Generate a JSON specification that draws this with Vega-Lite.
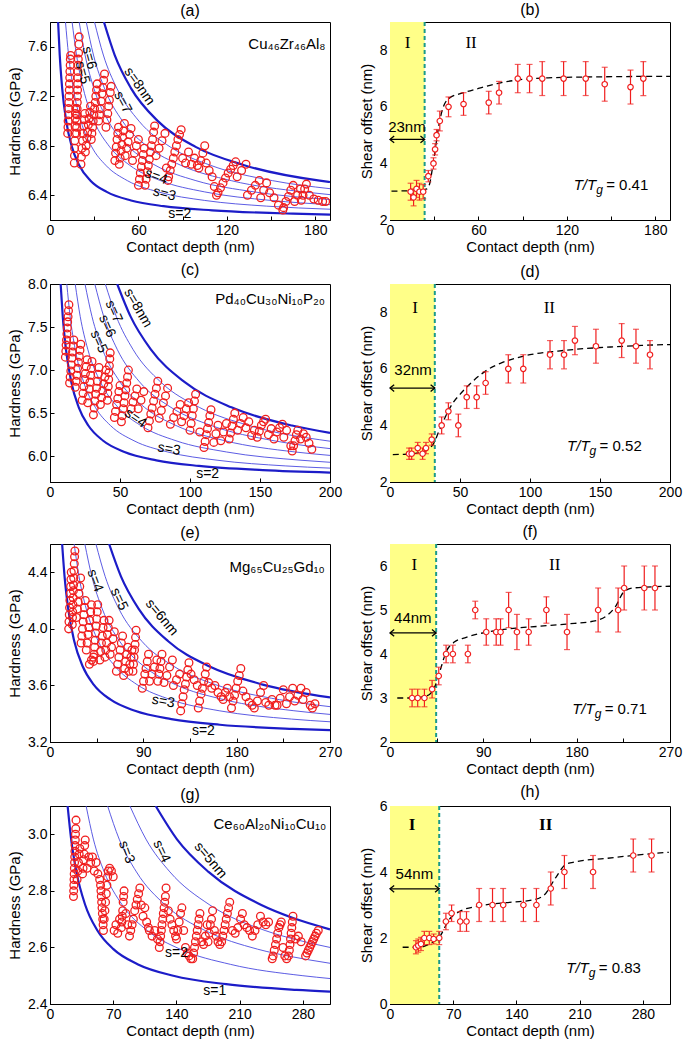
{
"$schema":"https://vega.github.io/schema/vega-lite/v6.json",
"padding":{"left":7,"top":1,"right":4,"bottom":2},
"spacing":6,
"config":{
 "view":{"stroke":"black","strokeWidth":1},
 "font":"Liberation Sans",
 "axis":{"domainColor":"black","tickColor":"black","labelColor":"black","titleColor":"black","labelFontSize":14,"titleFontSize":15,"titleFontWeight":"normal","grid":false,"tickSize":-4,"labelPadding":7,"labelFont":"Liberation Sans","titleFont":"Liberation Sans","labelOverlap":false,"labelFlush":false},
 "axisX":{"titlePadding":2},
 "axisY":{"titlePadding":5},
 "title":{"fontSize":16,"fontWeight":"normal","offset":3,"font":"Liberation Sans","color":"black"},
 "text":{"font":"Liberation Sans","fontSize":14,"color":"black"}
},
"datasets":{
"ca":[
{"s":2,"x":5.5,"y":7.8},{"s":2,"x":6.6,"y":7.533},{"s":2,"x":8.25,"y":7.266},{"s":2,"x":11,"y":6.999},{"s":2,"x":14.85,"y":6.791},{"s":2,"x":19.8,"y":6.643},{"s":2,"x":27.5,"y":6.518},{"s":2,"x":38.5,"y":6.427},{"s":2,"x":55,"y":6.358},{"s":2,"x":77,"y":6.312},{"s":2,"x":110,"y":6.278},{"s":2,"x":165,"y":6.251},{"s":2,"x":190,"y":6.244},
{"s":3,"x":10.5,"y":7.8},{"s":3,"x":12.6,"y":7.533},{"s":3,"x":15.75,"y":7.266},{"s":3,"x":21,"y":6.999},{"s":3,"x":28.35,"y":6.791},{"s":3,"x":37.8,"y":6.643},{"s":3,"x":52.5,"y":6.518},{"s":3,"x":73.5,"y":6.427},{"s":3,"x":105,"y":6.358},{"s":3,"x":147,"y":6.312},{"s":3,"x":190,"y":6.287},
{"s":4,"x":15,"y":7.8},{"s":4,"x":18,"y":7.533},{"s":4,"x":22.5,"y":7.266},{"s":4,"x":30,"y":6.999},{"s":4,"x":40.5,"y":6.791},{"s":4,"x":54,"y":6.643},{"s":4,"x":75,"y":6.518},{"s":4,"x":105,"y":6.427},{"s":4,"x":150,"y":6.358},{"s":4,"x":190,"y":6.324},
{"s":5,"x":19.8,"y":7.8},{"s":5,"x":23.8,"y":7.533},{"s":5,"x":29.7,"y":7.266},{"s":5,"x":39.6,"y":6.999},{"s":5,"x":53.5,"y":6.791},{"s":5,"x":71.3,"y":6.643},{"s":5,"x":99,"y":6.518},{"s":5,"x":138.6,"y":6.427},{"s":5,"x":190,"y":6.365},
{"s":6,"x":24.6,"y":7.8},{"s":6,"x":29.5,"y":7.533},{"s":6,"x":36.9,"y":7.266},{"s":6,"x":49.2,"y":6.999},{"s":6,"x":66.4,"y":6.791},{"s":6,"x":88.6,"y":6.643},{"s":6,"x":123,"y":6.518},{"s":6,"x":172.2,"y":6.427},{"s":6,"x":190,"y":6.405},
{"s":7,"x":30.2,"y":7.8},{"s":7,"x":36.2,"y":7.533},{"s":7,"x":45.3,"y":7.266},{"s":7,"x":60.4,"y":6.999},{"s":7,"x":81.5,"y":6.791},{"s":7,"x":108.7,"y":6.643},{"s":7,"x":151,"y":6.518},{"s":7,"x":190,"y":6.453},
{"s":8,"x":36.6,"y":7.8},{"s":8,"x":43.9,"y":7.533},{"s":8,"x":54.9,"y":7.266},{"s":8,"x":73.2,"y":6.999},{"s":8,"x":98.8,"y":6.791},{"s":8,"x":131.8,"y":6.643},{"s":8,"x":183,"y":6.518},{"s":8,"x":190,"y":6.507}
],
"cc":[
{"s":2,"x":7.6,"y":8.0},{"s":2,"x":9.12,"y":7.621},{"s":2,"x":11.4,"y":7.241},{"s":2,"x":15.2,"y":6.862},{"s":2,"x":20.52,"y":6.567},{"s":2,"x":27.36,"y":6.356},{"s":2,"x":38,"y":6.179},{"s":2,"x":53.2,"y":6.049},{"s":2,"x":76,"y":5.952},{"s":2,"x":106.4,"y":5.887},{"s":2,"x":152,"y":5.838},{"s":2,"x":200,"y":5.81},
{"s":3,"x":12,"y":8.0},{"s":3,"x":14.4,"y":7.621},{"s":3,"x":18,"y":7.241},{"s":3,"x":24,"y":6.862},{"s":3,"x":32.4,"y":6.567},{"s":3,"x":43.2,"y":6.356},{"s":3,"x":60,"y":6.179},{"s":3,"x":84,"y":6.049},{"s":3,"x":120,"y":5.952},{"s":3,"x":168,"y":5.887},{"s":3,"x":200,"y":5.861},
{"s":4,"x":18,"y":8.0},{"s":4,"x":21.6,"y":7.621},{"s":4,"x":27,"y":7.241},{"s":4,"x":36,"y":6.862},{"s":4,"x":48.6,"y":6.567},{"s":4,"x":64.8,"y":6.356},{"s":4,"x":90,"y":6.179},{"s":4,"x":126,"y":6.049},{"s":4,"x":180,"y":5.952},{"s":4,"x":200,"y":5.929},
{"s":5,"x":25,"y":8.0},{"s":5,"x":30,"y":7.621},{"s":5,"x":37.5,"y":7.241},{"s":5,"x":50,"y":6.862},{"s":5,"x":67.5,"y":6.567},{"s":5,"x":90,"y":6.356},{"s":5,"x":125,"y":6.179},{"s":5,"x":175,"y":6.049},{"s":5,"x":200,"y":6.009},
{"s":6,"x":32,"y":8.0},{"s":6,"x":38.4,"y":7.621},{"s":6,"x":48,"y":7.241},{"s":6,"x":64,"y":6.862},{"s":6,"x":86.4,"y":6.567},{"s":6,"x":115.2,"y":6.356},{"s":6,"x":160,"y":6.179},{"s":6,"x":200,"y":6.088},
{"s":7,"x":39.5,"y":8.0},{"s":7,"x":47.4,"y":7.621},{"s":7,"x":59.25,"y":7.241},{"s":7,"x":79,"y":6.862},{"s":7,"x":106.65,"y":6.567},{"s":7,"x":142.2,"y":6.356},{"s":7,"x":200,"y":6.174},
{"s":8,"x":48,"y":8.0},{"s":8,"x":57.6,"y":7.621},{"s":8,"x":72,"y":7.241},{"s":8,"x":96,"y":6.862},{"s":8,"x":129.6,"y":6.567},{"s":8,"x":172.8,"y":6.356},{"s":8,"x":200,"y":6.27}
],
"ce":[
{"s":2,"x":11.7,"y":4.6},{"s":2,"x":14.04,"y":4.371},{"s":2,"x":17.55,"y":4.141},{"s":2,"x":23.4,"y":3.912},{"s":2,"x":31.59,"y":3.734},{"s":2,"x":42.12,"y":3.606},{"s":2,"x":58.5,"y":3.499},{"s":2,"x":81.9,"y":3.421},{"s":2,"x":117,"y":3.362},{"s":2,"x":163.8,"y":3.322},{"s":2,"x":234,"y":3.293},{"s":2,"x":270,"y":3.284},
{"s":3,"x":23.3,"y":4.6},{"s":3,"x":27.96,"y":4.371},{"s":3,"x":34.95,"y":4.141},{"s":3,"x":46.6,"y":3.912},{"s":3,"x":62.91,"y":3.734},{"s":3,"x":83.88,"y":3.606},{"s":3,"x":116.5,"y":3.499},{"s":3,"x":163.1,"y":3.421},{"s":3,"x":233,"y":3.362},{"s":3,"x":270,"y":3.343},
{"s":4,"x":33.6,"y":4.6},{"s":4,"x":40.32,"y":4.371},{"s":4,"x":50.4,"y":4.141},{"s":4,"x":67.2,"y":3.912},{"s":4,"x":90.72,"y":3.734},{"s":4,"x":120.96,"y":3.606},{"s":4,"x":168,"y":3.499},{"s":4,"x":235.2,"y":3.421},{"s":4,"x":270,"y":3.395},
{"s":5,"x":44.3,"y":4.6},{"s":5,"x":53.16,"y":4.371},{"s":5,"x":66.45,"y":4.141},{"s":5,"x":88.6,"y":3.912},{"s":5,"x":119.61,"y":3.734},{"s":5,"x":159.48,"y":3.606},{"s":5,"x":221.5,"y":3.499},{"s":5,"x":270,"y":3.45},
{"s":6,"x":57,"y":4.6},{"s":6,"x":68.4,"y":4.371},{"s":6,"x":85.5,"y":4.141},{"s":6,"x":114,"y":3.912},{"s":6,"x":153.9,"y":3.734},{"s":6,"x":205.2,"y":3.606},{"s":6,"x":270,"y":3.515}
],
"cg":[
{"s":1,"x":19.5,"y":3.1},{"s":1,"x":23.4,"y":2.983},{"s":1,"x":29.25,"y":2.867},{"s":1,"x":39,"y":2.75},{"s":1,"x":52.65,"y":2.659},{"s":1,"x":70.2,"y":2.594},{"s":1,"x":97.5,"y":2.54},{"s":1,"x":136.5,"y":2.5},{"s":1,"x":195,"y":2.47},{"s":1,"x":273,"y":2.45},{"s":1,"x":310,"y":2.444},
{"s":2,"x":40,"y":3.1},{"s":2,"x":48,"y":2.983},{"s":2,"x":60,"y":2.867},{"s":2,"x":80,"y":2.75},{"s":2,"x":108,"y":2.659},{"s":2,"x":144,"y":2.594},{"s":2,"x":200,"y":2.54},{"s":2,"x":280,"y":2.5},{"s":2,"x":310,"y":2.49},
{"s":3,"x":63.8,"y":3.1},{"s":3,"x":76.56,"y":2.983},{"s":3,"x":95.7,"y":2.867},{"s":3,"x":127.6,"y":2.75},{"s":3,"x":172.26,"y":2.659},{"s":3,"x":229.68,"y":2.594},{"s":3,"x":268,"y":2.567},{"s":3,"x":310,"y":2.544},
{"s":4,"x":88.5,"y":3.1},{"s":4,"x":106.2,"y":2.983},{"s":4,"x":132.75,"y":2.867},{"s":4,"x":177,"y":2.75},{"s":4,"x":238.95,"y":2.659},{"s":4,"x":274.35,"y":2.626},{"s":4,"x":310,"y":2.6},
{"s":5,"x":117,"y":3.1},{"s":5,"x":140.4,"y":2.983},{"s":5,"x":175.5,"y":2.867},{"s":5,"x":234,"y":2.75},{"s":5,"x":269.1,"y":2.704},{"s":5,"x":310,"y":2.664}
],
"ha":[
{"x":12,"y":6.9},{"x":12.2,"y":6.95},{"x":12.3,"y":7},{"x":12.5,"y":7.05},{"x":12.6,"y":7.1},{"x":12.8,"y":7.15},{"x":12.9,"y":7.2},{"x":13.1,"y":7.25},{"x":13.2,"y":7.3},{"x":13.4,"y":7.35},{"x":13.5,"y":7.4},{"x":13.7,"y":7.45},{"x":13.8,"y":7.5},{"x":14,"y":7.53},
{"x":16.5,"y":6.66},{"x":16.6,"y":6.72},{"x":16.7,"y":6.78},{"x":16.8,"y":6.84},{"x":16.9,"y":6.9},{"x":17,"y":6.96},{"x":17.2,"y":7.02},{"x":17.3,"y":7.06},{"x":17.5,"y":7.1},
{"x":18,"y":6.9},{"x":18.1,"y":6.95},{"x":18.2,"y":7},{"x":18.3,"y":7.05},{"x":18.4,"y":7.1},{"x":18.5,"y":7.15},{"x":18.6,"y":7.2},{"x":18.7,"y":7.25},{"x":18.8,"y":7.3},{"x":18.9,"y":7.35},{"x":19,"y":7.4},{"x":19.1,"y":7.45},{"x":19.2,"y":7.5},{"x":19.4,"y":7.55},{"x":19.6,"y":7.62},{"x":19.8,"y":7.68},
{"x":21,"y":6.65},{"x":21.3,"y":6.71},{"x":21.7,"y":6.78},{"x":22.1,"y":6.84},{"x":22.5,"y":6.9},{"x":22.9,"y":6.96},{"x":23.3,"y":7.01},{"x":23.6,"y":7.06},
{"x":24,"y":6.75},{"x":24.5,"y":6.8},{"x":25,"y":6.86},{"x":25.5,"y":6.91},{"x":26,"y":6.97},{"x":26.5,"y":7.02},{"x":27,"y":7.07},{"x":27.5,"y":7.12},
{"x":28,"y":6.85},{"x":28.4,"y":6.9},{"x":28.9,"y":6.95},{"x":29.3,"y":7},{"x":29.8,"y":7.05},{"x":30.2,"y":7.1},{"x":30.7,"y":7.15},{"x":31.1,"y":7.2},{"x":31.6,"y":7.25},{"x":32,"y":7.3},
{"x":33,"y":7},{"x":33.6,"y":7.05},{"x":34.1,"y":7.1},{"x":34.7,"y":7.16},{"x":35.3,"y":7.22},{"x":35.9,"y":7.27},{"x":36.4,"y":7.33},{"x":37,"y":7.38},
{"x":38,"y":6.95},{"x":38.6,"y":7.01},{"x":39.2,"y":7.06},{"x":39.8,"y":7.12},{"x":40.3,"y":7.17},{"x":40.9,"y":7.23},{"x":41.5,"y":7.28},
{"x":44,"y":6.68},{"x":44.5,"y":6.74},{"x":45,"y":6.79},{"x":45.5,"y":6.85},{"x":46,"y":6.9},{"x":46.5,"y":6.95},
{"x":47,"y":6.65},{"x":47.6,"y":6.7},{"x":48.2,"y":6.76},{"x":48.8,"y":6.81},{"x":49.3,"y":6.87},{"x":49.9,"y":6.92},{"x":50.5,"y":6.98},
{"x":51,"y":6.72},{"x":52,"y":6.78},{"x":53,"y":6.83},{"x":54,"y":6.89},{"x":55,"y":6.94},
{"x":56,"y":6.68},{"x":57.3,"y":6.74},{"x":58.6,"y":6.8},{"x":60,"y":6.85},
{"x":60,"y":6.48},{"x":60.7,"y":6.53},{"x":61.3,"y":6.58},{"x":62,"y":6.63},{"x":62.7,"y":6.68},{"x":63.3,"y":6.73},{"x":64,"y":6.78},
{"x":64.5,"y":6.48},{"x":65.2,"y":6.53},{"x":66,"y":6.59},{"x":66.7,"y":6.64},{"x":67.4,"y":6.69},{"x":68.1,"y":6.75},{"x":68.8,"y":6.8},{"x":69.6,"y":6.85},{"x":70.3,"y":6.91},{"x":71,"y":6.96},
{"x":72,"y":6.72},{"x":74,"y":6.78},{"x":76,"y":6.84},{"x":78,"y":6.9},
{"x":79,"y":6.62},{"x":80,"y":6.52},
{"x":80.5,"y":6.55},{"x":81.6,"y":6.6},{"x":82.6,"y":6.65},{"x":83.7,"y":6.7},{"x":84.7,"y":6.75},{"x":85.8,"y":6.8},{"x":86.8,"y":6.85},{"x":87.9,"y":6.89},{"x":89,"y":6.93},
{"x":90,"y":6.7},{"x":92,"y":6.66},{"x":94,"y":6.75},{"x":96,"y":6.65},{"x":98,"y":6.7},{"x":100,"y":6.64},
{"x":101,"y":6.62},{"x":102.3,"y":6.68},{"x":103.7,"y":6.74},{"x":105,"y":6.8},
{"x":106,"y":6.66},{"x":108,"y":6.6},{"x":110,"y":6.55},{"x":111.5,"y":6.47},{"x":113,"y":6.4},
{"x":114,"y":6.42},{"x":115.7,"y":6.46},{"x":117.4,"y":6.5},{"x":119.1,"y":6.54},{"x":120.9,"y":6.58},{"x":122.6,"y":6.61},{"x":124.3,"y":6.64},{"x":126,"y":6.67},
{"x":127,"y":6.55},{"x":130,"y":6.6},{"x":133,"y":6.65},
{"x":134,"y":6.4},{"x":136.7,"y":6.44},{"x":139.3,"y":6.48},{"x":142,"y":6.52},
{"x":143,"y":6.38},{"x":145,"y":6.44},{"x":147,"y":6.5},
{"x":149,"y":6.42},{"x":152,"y":6.38},{"x":155,"y":6.32},{"x":158,"y":6.28},
{"x":158.5,"y":6.3},{"x":160.1,"y":6.35},{"x":161.8,"y":6.39},{"x":163.4,"y":6.44},{"x":165,"y":6.48},
{"x":166,"y":6.35},{"x":168,"y":6.4},{"x":170,"y":6.45},
{"x":170.5,"y":6.36},{"x":171.7,"y":6.4},{"x":172.8,"y":6.45},{"x":174,"y":6.49},
{"x":176,"y":6.4},{"x":179,"y":6.37},{"x":182,"y":6.36},{"x":185,"y":6.35},{"x":187,"y":6.35}
],
"hc":[
{"x":11,"y":7.15},{"x":11.3,"y":7.22},{"x":11.5,"y":7.29},{"x":11.8,"y":7.35},{"x":12.1,"y":7.42},{"x":12.4,"y":7.49},{"x":12.6,"y":7.56},{"x":12.9,"y":7.62},{"x":13.2,"y":7.69},{"x":13.5,"y":7.76},
{"x":14,"y":6.85},{"x":14.4,"y":6.92},{"x":14.9,"y":6.99},{"x":15.3,"y":7.06},{"x":15.7,"y":7.14},{"x":16.1,"y":7.21},{"x":16.6,"y":7.28},{"x":17,"y":7.35},
{"x":18,"y":6.8},{"x":18.6,"y":6.87},{"x":19.1,"y":6.94},{"x":19.7,"y":7.02},{"x":20.3,"y":7.09},{"x":20.9,"y":7.16},{"x":21.4,"y":7.23},{"x":22,"y":7.3},
{"x":23,"y":6.65},{"x":23.6,"y":6.73},{"x":24.2,"y":6.81},{"x":24.8,"y":6.89},{"x":25.3,"y":6.96},{"x":25.9,"y":7.04},{"x":26.5,"y":7.12},
{"x":27,"y":6.62},{"x":27.5,"y":6.7},{"x":28,"y":6.78},{"x":28.5,"y":6.86},{"x":29,"y":6.94},{"x":29.5,"y":7.02},{"x":30,"y":7.1},
{"x":31,"y":6.48},{"x":31.6,"y":6.56},{"x":32.1,"y":6.64},{"x":32.7,"y":6.72},{"x":33.3,"y":6.79},{"x":33.9,"y":6.87},{"x":34.4,"y":6.95},{"x":35,"y":7.03},
{"x":36,"y":6.6},{"x":36.8,"y":6.68},{"x":37.6,"y":6.76},{"x":38.4,"y":6.84},{"x":39.2,"y":6.92},{"x":40,"y":7},
{"x":41,"y":6.65},{"x":41.3,"y":6.73},{"x":41.6,"y":6.81},{"x":41.9,"y":6.89},{"x":42.1,"y":6.97},{"x":42.4,"y":7.05},{"x":42.7,"y":7.13},{"x":43,"y":7.2},
{"x":46,"y":6.45},{"x":46.8,"y":6.52},{"x":47.6,"y":6.6},{"x":48.4,"y":6.67},{"x":49.2,"y":6.75},{"x":50,"y":6.82},
{"x":51,"y":6.4},{"x":51.6,"y":6.47},{"x":52.3,"y":6.55},{"x":52.9,"y":6.62},{"x":53.5,"y":6.7},{"x":54.1,"y":6.77},{"x":54.8,"y":6.85},{"x":55.4,"y":6.92},{"x":56,"y":7},
{"x":58,"y":6.55},{"x":59.3,"y":6.63},{"x":60.7,"y":6.7},{"x":62,"y":6.78},
{"x":63,"y":6.55},{"x":65,"y":6.65},{"x":67,"y":6.75},
{"x":70,"y":6.33},{"x":71,"y":6.41},{"x":72,"y":6.49},{"x":73,"y":6.56},{"x":74,"y":6.64},{"x":75,"y":6.72},{"x":76,"y":6.79},{"x":77,"y":6.87},
{"x":78,"y":6.44},{"x":79.5,"y":6.53},{"x":81,"y":6.62},{"x":82.5,"y":6.7},{"x":84,"y":6.79},
{"x":86,"y":6.37},{"x":88.3,"y":6.45},{"x":90.7,"y":6.52},{"x":93,"y":6.6},
{"x":94,"y":6.4},{"x":95.7,"y":6.47},{"x":97.3,"y":6.55},{"x":99,"y":6.62},
{"x":100,"y":6.3},{"x":100.8,"y":6.38},{"x":101.6,"y":6.47},{"x":102.4,"y":6.55},{"x":103.2,"y":6.64},{"x":104,"y":6.72},
{"x":107,"y":6.28},
{"x":110,"y":6.1},{"x":110.8,"y":6.17},{"x":111.7,"y":6.25},{"x":112.5,"y":6.32},{"x":113.3,"y":6.39},{"x":114.2,"y":6.47},{"x":115,"y":6.54},
{"x":117,"y":6.16},{"x":118.5,"y":6.26},{"x":120,"y":6.36},{"x":122,"y":6.18},{"x":124,"y":6.28},{"x":126,"y":6.38},
{"x":128,"y":6.2},{"x":129,"y":6.27},{"x":130,"y":6.35},{"x":131,"y":6.43},{"x":132,"y":6.5},
{"x":134,"y":6.3},{"x":136,"y":6.38},{"x":138,"y":6.45},{"x":140,"y":6.33},{"x":142,"y":6.4},{"x":144,"y":6.24},{"x":146,"y":6.3},
{"x":148,"y":6.22},{"x":149.5,"y":6.29},{"x":151,"y":6.36},{"x":152.5,"y":6.4},{"x":154,"y":6.43},
{"x":156,"y":6.25},{"x":158,"y":6.32},{"x":160,"y":6.2},{"x":162,"y":6.28},{"x":164,"y":6.33},{"x":166,"y":6.37},{"x":167,"y":6.22},{"x":169,"y":6.3},
{"x":172,"y":6.12},{"x":173,"y":6.06},{"x":174,"y":6.12},{"x":175,"y":6.18},{"x":176,"y":6.25},{"x":177,"y":6.3},{"x":179,"y":6.2},{"x":181,"y":6.26},{"x":183,"y":6.22},{"x":185,"y":6.15},{"x":187,"y":6.08}
],
"he":[
{"x":18,"y":4},{"x":18.3,"y":4.05},{"x":18.6,"y":4.1},{"x":18.9,"y":4.15},{"x":19.2,"y":4.2},{"x":19.6,"y":4.25},{"x":19.9,"y":4.3},{"x":20.2,"y":4.35},{"x":20.5,"y":4.4},
{"x":21.5,"y":4.03},{"x":21.7,"y":4.08},{"x":21.9,"y":4.12},{"x":22.1,"y":4.17},{"x":22.3,"y":4.22},{"x":22.5,"y":4.27},{"x":22.7,"y":4.31},{"x":22.9,"y":4.36},{"x":23.1,"y":4.41},{"x":23.4,"y":4.46},{"x":23.7,"y":4.51},{"x":24,"y":4.55},
{"x":25.5,"y":4.08},{"x":26.3,"y":4.14},{"x":27.1,"y":4.19},{"x":27.9,"y":4.25},{"x":28.7,"y":4.3},{"x":29.5,"y":4.36},
{"x":30,"y":3.9},{"x":30.7,"y":3.95},{"x":31.3,"y":4},{"x":32,"y":4.05},{"x":32.7,"y":4.1},{"x":33.3,"y":4.15},{"x":34,"y":4.2},
{"x":35,"y":3.85},{"x":35.8,"y":3.9},{"x":36.7,"y":3.96},{"x":37.5,"y":4.01},{"x":38.3,"y":4.06},{"x":39.2,"y":4.12},{"x":40,"y":4.17},
{"x":38,"y":3.75},{"x":40,"y":3.78},{"x":42,"y":3.8},
{"x":42,"y":3.77},{"x":42.5,"y":3.82},{"x":43,"y":3.87},{"x":43.5,"y":3.92},{"x":44,"y":3.97},{"x":44.5,"y":4.02},{"x":45,"y":4.07},{"x":45.5,"y":4.12},{"x":46,"y":4.17},
{"x":48,"y":3.78},{"x":48.8,"y":3.84},{"x":49.6,"y":3.9},{"x":50.4,"y":3.95},{"x":51.2,"y":4.01},{"x":52,"y":4.06},
{"x":53,"y":3.8},{"x":53.8,"y":3.85},{"x":54.6,"y":3.9},{"x":55.4,"y":3.96},{"x":56.2,"y":4.01},{"x":57,"y":4.06},
{"x":58,"y":3.82},{"x":59.3,"y":3.87},{"x":60.7,"y":3.93},{"x":62,"y":3.98},
{"x":64,"y":3.7},{"x":65.2,"y":3.75},{"x":66.4,"y":3.8},{"x":67.6,"y":3.85},{"x":68.8,"y":3.9},{"x":70,"y":3.95},
{"x":71,"y":3.67},{"x":72,"y":3.72},{"x":73,"y":3.77},{"x":74,"y":3.82},{"x":75,"y":3.87},
{"x":76,"y":3.7},{"x":77,"y":3.75},{"x":78,"y":3.8},{"x":79,"y":3.85},
{"x":80,"y":3.7},{"x":80.5,"y":3.75},{"x":81,"y":3.8},{"x":81.5,"y":3.85},{"x":82,"y":3.89},{"x":82.5,"y":3.94},{"x":83,"y":3.99},
{"x":89,"y":3.58},{"x":90.2,"y":3.63},{"x":91.4,"y":3.68},{"x":92.6,"y":3.72},{"x":93.8,"y":3.77},{"x":95,"y":3.82},
{"x":96,"y":3.63},{"x":98.3,"y":3.68},{"x":100.7,"y":3.73},{"x":103,"y":3.78},
{"x":104,"y":3.63},{"x":105,"y":3.68},{"x":106,"y":3.72},{"x":107,"y":3.77},{"x":108,"y":3.82},
{"x":110,"y":3.62},{"x":112.7,"y":3.67},{"x":115.3,"y":3.73},{"x":118,"y":3.78},
{"x":119,"y":3.6},{"x":122,"y":3.64},{"x":125,"y":3.68},
{"x":126,"y":3.42},{"x":127.1,"y":3.47},{"x":128.3,"y":3.52},{"x":129.4,"y":3.57},{"x":130.6,"y":3.61},{"x":131.7,"y":3.66},{"x":132.9,"y":3.71},{"x":134,"y":3.76},
{"x":136,"y":3.68},{"x":139,"y":3.64},{"x":142,"y":3.6},
{"x":143,"y":3.44},{"x":144.3,"y":3.49},{"x":145.7,"y":3.54},{"x":147,"y":3.58},{"x":148.3,"y":3.63},{"x":149.7,"y":3.68},{"x":151,"y":3.73},
{"x":153,"y":3.62},{"x":156,"y":3.58},{"x":159,"y":3.6},{"x":162,"y":3.55},{"x":165,"y":3.52},
{"x":167,"y":3.5},{"x":169,"y":3.55},{"x":171,"y":3.58},{"x":173,"y":3.52},
{"x":175,"y":3.44},{"x":176.5,"y":3.49},{"x":178,"y":3.53},{"x":179.5,"y":3.58},{"x":181,"y":3.63},{"x":182.5,"y":3.67},{"x":184,"y":3.72},
{"x":186,"y":3.56},{"x":189,"y":3.52},{"x":192,"y":3.48},{"x":195,"y":3.46},
{"x":197,"y":3.44},{"x":200,"y":3.49},{"x":203,"y":3.55},{"x":206,"y":3.6},
{"x":208,"y":3.48},{"x":211,"y":3.46},{"x":214,"y":3.5},{"x":217,"y":3.46},
{"x":219,"y":3.46},{"x":222,"y":3.51},{"x":225,"y":3.57},
{"x":228,"y":3.47},{"x":231,"y":3.52},{"x":234,"y":3.58},{"x":236,"y":3.49},{"x":239,"y":3.53},{"x":242,"y":3.58},
{"x":244,"y":3.5},{"x":247,"y":3.55},{"x":251,"y":3.46},{"x":253,"y":3.44},{"x":255.5,"y":3.47}
],
"hg":[
{"x":26,"y":2.78},{"x":26.2,"y":2.8},{"x":26.4,"y":2.82},{"x":26.6,"y":2.84},{"x":26.8,"y":2.86},{"x":27,"y":2.88},{"x":27.2,"y":2.9},{"x":27.4,"y":2.92},{"x":27.6,"y":2.94},{"x":27.8,"y":2.96},{"x":28,"y":2.98},{"x":28.2,"y":3},{"x":28.5,"y":3.02},{"x":28.8,"y":3.05},
{"x":30,"y":2.84},{"x":30.8,"y":2.87},{"x":31.5,"y":2.9},{"x":32.3,"y":2.93},{"x":33,"y":2.95},
{"x":36,"y":2.86},{"x":36.6,"y":2.88},{"x":37.2,"y":2.91},{"x":37.8,"y":2.93},{"x":38.4,"y":2.96},{"x":39,"y":2.98},
{"x":41,"y":2.88},{"x":43,"y":2.92},{"x":45,"y":2.9},{"x":47,"y":2.92},
{"x":49,"y":2.87},{"x":51,"y":2.9},{"x":53,"y":2.86},{"x":55,"y":2.84},
{"x":56,"y":2.82},{"x":56.4,"y":2.8},{"x":56.8,"y":2.78},{"x":57.2,"y":2.76},{"x":57.6,"y":2.74},{"x":58,"y":2.72},{"x":58.4,"y":2.7},{"x":58.8,"y":2.68},{"x":59.2,"y":2.66},
{"x":60,"y":2.7},{"x":60.8,"y":2.73},{"x":61.5,"y":2.76},{"x":62.3,"y":2.79},{"x":63,"y":2.82},{"x":63.8,"y":2.85},{"x":64.5,"y":2.87},{"x":66,"y":2.88},{"x":68,"y":2.87},{"x":70,"y":2.85},
{"x":71,"y":2.66},{"x":73,"y":2.68},{"x":75,"y":2.65},{"x":77,"y":2.7},
{"x":79,"y":2.67},{"x":79.5,"y":2.69},{"x":80,"y":2.71},{"x":80.5,"y":2.73},{"x":81,"y":2.76},{"x":81.5,"y":2.78},{"x":82,"y":2.8},
{"x":84,"y":2.72},{"x":86,"y":2.68},
{"x":88,"y":2.64},{"x":89.4,"y":2.66},{"x":90.9,"y":2.68},{"x":92.3,"y":2.7},{"x":93.8,"y":2.73},{"x":95.2,"y":2.75},{"x":96.6,"y":2.77},{"x":98.1,"y":2.79},{"x":99.5,"y":2.81},
{"x":101,"y":2.75},{"x":103,"y":2.71},{"x":105,"y":2.74},{"x":107,"y":2.69},{"x":109,"y":2.67},
{"x":110,"y":2.66},{"x":113,"y":2.64},{"x":116,"y":2.66},{"x":119,"y":2.63},
{"x":121,"y":2.6},{"x":121.8,"y":2.62},{"x":122.5,"y":2.64},{"x":123.3,"y":2.66},{"x":124,"y":2.68},{"x":124.8,"y":2.7},{"x":125.5,"y":2.72},{"x":126.3,"y":2.74},{"x":127,"y":2.76},{"x":127.8,"y":2.78},{"x":128.5,"y":2.81},
{"x":131,"y":2.73},{"x":133,"y":2.7},{"x":135,"y":2.68},{"x":137,"y":2.66},{"x":139,"y":2.64},
{"x":140,"y":2.63},{"x":141.5,"y":2.66},{"x":143,"y":2.69},{"x":144.5,"y":2.72},{"x":146,"y":2.74},
{"x":148,"y":2.66},{"x":150,"y":2.6},{"x":152,"y":2.58},{"x":154,"y":2.57},{"x":156,"y":2.56},
{"x":158,"y":2.56},{"x":159,"y":2.58},{"x":160,"y":2.6},{"x":161,"y":2.62},{"x":162,"y":2.64},{"x":163,"y":2.66},{"x":164,"y":2.68},{"x":165,"y":2.7},{"x":166,"y":2.72},
{"x":168,"y":2.62},{"x":170,"y":2.61},{"x":172,"y":2.64},{"x":174,"y":2.68},
{"x":175,"y":2.62},{"x":176.3,"y":2.65},{"x":177.5,"y":2.68},{"x":178.8,"y":2.7},{"x":180,"y":2.73},
{"x":182,"y":2.66},{"x":184,"y":2.64},{"x":186,"y":2.62},{"x":188,"y":2.61},
{"x":190,"y":2.62},{"x":191.3,"y":2.64},{"x":192.6,"y":2.66},{"x":193.9,"y":2.68},{"x":195.1,"y":2.7},{"x":196.4,"y":2.72},{"x":197.7,"y":2.74},{"x":199,"y":2.76},
{"x":202,"y":2.66},{"x":205,"y":2.65},{"x":208,"y":2.67},{"x":211,"y":2.7},{"x":213,"y":2.72},
{"x":215,"y":2.68},{"x":218,"y":2.67},{"x":221,"y":2.66},{"x":224,"y":2.64},{"x":227,"y":2.66},{"x":230,"y":2.68},{"x":233,"y":2.71},
{"x":236,"y":2.69},{"x":239,"y":2.68},{"x":242,"y":2.69},
{"x":246,"y":2.56},{"x":247,"y":2.57},{"x":248.3,"y":2.59},{"x":249.6,"y":2.61},{"x":250.9,"y":2.63},{"x":252.1,"y":2.65},{"x":253.4,"y":2.67},{"x":254.7,"y":2.68},{"x":256,"y":2.69},
{"x":258,"y":2.6},{"x":260,"y":2.57},{"x":262,"y":2.56},{"x":264,"y":2.57},
{"x":265,"y":2.59},{"x":265.7,"y":2.61},{"x":266.3,"y":2.63},{"x":267,"y":2.65},{"x":267.7,"y":2.67},{"x":268.3,"y":2.69},{"x":269,"y":2.71},
{"x":272,"y":2.63},{"x":275,"y":2.64},{"x":278,"y":2.62},
{"x":283,"y":2.57},{"x":284.5,"y":2.58},{"x":286,"y":2.59},{"x":287.5,"y":2.6},{"x":289,"y":2.61},{"x":290.5,"y":2.62},{"x":292,"y":2.63},{"x":293.5,"y":2.64},{"x":295,"y":2.65},{"x":297,"y":2.66}
],
"sb":[{"x":14,"y":3.0,"e":0.3},{"x":16,"y":2.8,"e":0.3},{"x":18,"y":3.1,"e":0.3},{"x":20,"y":3.0,"e":0.3},{"x":22.5,"y":3.0,"e":0.25},{"x":26,"y":3.55,"e":0.2},{"x":29.5,"y":4.0,"e":0.2},{"x":30.6,"y":4.5,"e":0.2},{"x":31.6,"y":5.0,"e":0.2},{"x":33.8,"y":5.5,"e":0.35},{"x":39.7,"y":6.0,"e":0.35},{"x":49.9,"y":6.1,"e":0.4},{"x":67,"y":6.15,"e":0.4},{"x":74,"y":6.5,"e":0.4},{"x":86.7,"y":7.0,"e":0.5},{"x":94.7,"y":7.0,"e":0.5},{"x":103.3,"y":7.0,"e":0.6},{"x":117.8,"y":7.0,"e":0.6},{"x":132.8,"y":7.0,"e":0.6},{"x":145.7,"y":6.8,"e":0.6},{"x":163.2,"y":6.7,"e":0.6},{"x":171.9,"y":7.0,"e":0.6}],
"fb":[{"x":1,"y":3.02},{"x":10,"y":3.03},{"x":20,"y":3.05},{"x":25,"y":3.1},{"x":27,"y":3.3},{"x":29,"y":3.9},{"x":31,"y":4.6},{"x":33,"y":5.3},{"x":35,"y":5.8},{"x":37,"y":6.1},{"x":40,"y":6.3},{"x":50,"y":6.5},{"x":60,"y":6.65},{"x":75,"y":6.85},{"x":90,"y":6.97},{"x":110,"y":7.03},{"x":140,"y":7.06},{"x":190,"y":7.08}],
"sd":[{"x":13.6,"y":3.0,"e":0.2},{"x":15.5,"y":3.0,"e":0.2},{"x":19.8,"y":3.2,"e":0.2},{"x":23.3,"y":3.0,"e":0.2},{"x":25.7,"y":3.2,"e":0.2},{"x":29.8,"y":3.5,"e":0.2},{"x":36.9,"y":4.0,"e":0.3},{"x":41.7,"y":4.5,"e":0.3},{"x":48.8,"y":4.0,"e":0.4},{"x":54.8,"y":5.0,"e":0.4},{"x":61.9,"y":5.0,"e":0.4},{"x":68.3,"y":5.5,"e":0.4},{"x":84.5,"y":6.0,"e":0.5},{"x":95.2,"y":6.0,"e":0.5},{"x":114.3,"y":6.5,"e":0.5},{"x":124.3,"y":6.5,"e":0.5},{"x":132.1,"y":7.0,"e":0.5},{"x":147.1,"y":6.8,"e":0.6},{"x":165.5,"y":7.0,"e":0.6},{"x":175.7,"y":6.8,"e":0.6},{"x":185.7,"y":6.5,"e":0.5}],
"fd":[{"x":2,"y":2.97},{"x":10,"y":2.98},{"x":20,"y":3.03},{"x":27,"y":3.15},{"x":31,"y":3.35},{"x":35,"y":3.8},{"x":40,"y":4.35},{"x":45,"y":4.8},{"x":50,"y":5.1},{"x":60,"y":5.6},{"x":70,"y":5.98},{"x":80,"y":6.22},{"x":90,"y":6.38},{"x":100,"y":6.5},{"x":120,"y":6.63},{"x":140,"y":6.72},{"x":160,"y":6.78},{"x":180,"y":6.83},{"x":200,"y":6.86}],
"sf":[{"x":21.3,"y":3.0,"e":0.2},{"x":26.7,"y":3.0,"e":0.2},{"x":33.2,"y":3.0,"e":0.2},{"x":40.6,"y":3.2,"e":0.2},{"x":47,"y":3.5,"e":0.2},{"x":54.1,"y":4.0,"e":0.2},{"x":60.6,"y":4.0,"e":0.2},{"x":75.1,"y":4.0,"e":0.2},{"x":82.2,"y":5.0,"e":0.2},{"x":92.8,"y":4.5,"e":0.3},{"x":102.4,"y":4.5,"e":0.3},{"x":106.6,"y":4.5,"e":0.3},{"x":114.4,"y":5.0,"e":0.4},{"x":122.4,"y":4.5,"e":0.4},{"x":133.7,"y":4.5,"e":0.3},{"x":150.8,"y":5.0,"e":0.3},{"x":170.7,"y":4.5,"e":0.4},{"x":200.7,"y":5.0,"e":0.5},{"x":220,"y":5.0,"e":0.5},{"x":225.8,"y":5.5,"e":0.5},{"x":245.2,"y":5.5,"e":0.5},{"x":255.5,"y":5.5,"e":0.5}],
"ff":[{"x":7,"y":3.0},{"x":20,"y":3.0},{"x":30,"y":3.02},{"x":38,"y":3.08},{"x":43,"y":3.25},{"x":48,"y":3.6},{"x":54,"y":4.04},{"x":62,"y":4.27},{"x":73.5,"y":4.38},{"x":96,"y":4.51},{"x":122,"y":4.59},{"x":144,"y":4.63},{"x":170,"y":4.68},{"x":199,"y":4.76},{"x":209,"y":4.87},{"x":218,"y":5.1},{"x":225,"y":5.4},{"x":234,"y":5.5},{"x":270,"y":5.54}],
"sh":[{"x":28.7,"y":1.72,"e":0.2},{"x":31.3,"y":1.77,"e":0.2},{"x":34.3,"y":1.82,"e":0.2},{"x":38,"y":2.0,"e":0.2},{"x":43.5,"y":2.0,"e":0.2},{"x":48.3,"y":1.97,"e":0.15},{"x":54.5,"y":2.0,"e":0.2},{"x":61.9,"y":2.5,"e":0.25},{"x":68.2,"y":2.75,"e":0.25},{"x":77.7,"y":2.5,"e":0.3},{"x":84.7,"y":2.5,"e":0.3},{"x":98.7,"y":3.0,"e":0.5},{"x":113.5,"y":3.0,"e":0.5},{"x":125.3,"y":3.0,"e":0.5},{"x":147.7,"y":3.0,"e":0.5},{"x":162.1,"y":3.0,"e":0.5},{"x":178,"y":3.5,"e":0.5},{"x":193.1,"y":4.0,"e":0.5},{"x":224.8,"y":4.0,"e":0.5},{"x":269.3,"y":4.5,"e":0.5},{"x":289.6,"y":4.5,"e":0.5}],
"fh":[{"x":14,"y":1.72},{"x":32,"y":1.72},{"x":47,"y":1.87},{"x":54.5,"y":2.02},{"x":65.6,"y":2.56},{"x":76.6,"y":2.8},{"x":98.7,"y":2.97},{"x":128,"y":3.07},{"x":157.7,"y":3.15},{"x":170.6,"y":3.3},{"x":183.5,"y":3.83},{"x":194.5,"y":4.23},{"x":205.6,"y":4.31},{"x":238.8,"y":4.41},{"x":275.6,"y":4.52},{"x":308.8,"y":4.6}]
},
"vconcat":[
{"hconcat":[
{"title":{"text":"(a)","frame":"group"},"width":280,"height":198,"layer":[
 {"data":{"name":"ca"},"transform":[{"filter":"datum.s==2||datum.s==8"}],"mark":{"type":"line","clip":true,"interpolate":"monotone","color":"#1c1cc8","strokeWidth":2.2},
  "encoding":{"x":{"field":"x","type":"quantitative","scale":{"domain":[0,190],"nice":false,"zero":false},"title":"Contact depth (nm)","axis":{"values":[0,30,60,90,120,150,180],"labelExpr":"datum.value%60===0?datum.label:''"}},
   "y":{"field":"y","type":"quantitative","scale":{"domain":[6.2,7.8],"nice":false,"zero":false},"title":"Hardness (GPa)","axis":{"values":[6.4,6.6,6.8,7.0,7.2,7.4,7.6],"labelExpr":"datum.value==6.4||datum.value==6.8||datum.value==7.2||datum.value==7.6?format(datum.value,'.1f'):''"}},
   "detail":{"field":"s","type":"nominal"}}},
 {"data":{"name":"ca"},"transform":[{"filter":"datum.s!=2&&datum.s!=8"}],"mark":{"type":"line","clip":true,"interpolate":"monotone","color":"#4a4ae0","strokeWidth":0.9},
  "encoding":{"x":{"field":"x","type":"quantitative"},"y":{"field":"y","type":"quantitative"},"detail":{"field":"s","type":"nominal"}}},
 {"data":{"name":"ha"},"mark":{"type":"point","shape":"circle","filled":false,"color":"#f01e1e","size":60,"strokeWidth":1.3,"opacity":1,"clip":true},
  "encoding":{"x":{"field":"x","type":"quantitative"},"y":{"field":"y","type":"quantitative"}}},
 {"data":{"values":[{"x":60.6,"y":7.28,"t":"s=8nm"}]},"mark":{"type":"text","angle":55},"encoding":{"x":{"field":"x","type":"quantitative"},"y":{"field":"y","type":"quantitative"},"text":{"field":"t"}}},
 {"data":{"values":[{"x":49.3,"y":7.15,"t":"s=7"}]},"mark":{"type":"text","angle":62},"encoding":{"x":{"field":"x","type":"quantitative"},"y":{"field":"y","type":"quantitative"},"text":{"field":"t"}}},
 {"data":{"values":[{"x":26.6,"y":7.51,"t":"s=6"},{"x":22,"y":7.39,"t":"s=5"}]},"mark":{"type":"text","angle":75},"encoding":{"x":{"field":"x","type":"quantitative"},"y":{"field":"y","type":"quantitative"},"text":{"field":"t"}}},
 {"data":{"values":[{"x":72,"y":6.55,"t":"s=4"}]},"mark":{"type":"text","angle":20},"encoding":{"x":{"field":"x","type":"quantitative"},"y":{"field":"y","type":"quantitative"},"text":{"field":"t"}}},
 {"data":{"values":[{"x":77.6,"y":6.41,"t":"s=3"}]},"mark":{"type":"text","angle":15},"encoding":{"x":{"field":"x","type":"quantitative"},"y":{"field":"y","type":"quantitative"},"text":{"field":"t"}}},
 {"data":{"values":[{"x":88,"y":6.25,"t":"s=2"}]},"mark":{"type":"text"},"encoding":{"x":{"field":"x","type":"quantitative"},"y":{"field":"y","type":"quantitative"},"text":{"field":"t"}}},
 {"data":{"values":[{"x":187,"y":7.62,"t":"Cu₄₆Zr₄₆Al₈"}]},"mark":{"type":"text","align":"right","fontSize":15},"encoding":{"x":{"field":"x","type":"quantitative"},"y":{"field":"y","type":"quantitative"},"text":{"field":"t"}}}
]},
{"title":{"text":"(b)","frame":"group"},"width":280,"height":198,"layer":[
 {"data":{"values":[{"x":0,"x2":23.5}]},"mark":{"type":"rect","color":"#ffff88"},"encoding":{"x":{"field":"x","type":"quantitative","scale":{"domain":[0,190],"nice":false,"zero":false}},"x2":{"field":"x2"},"y":{"datum":9,"type":"quantitative","scale":{"domain":[2,9],"nice":false,"zero":false}},"y2":{"datum":2}}},
 {"data":{"values":[{"x":23.5}]},"mark":{"type":"rule","color":"#1a9a8a","strokeWidth":2,"strokeDash":[4,3]},"encoding":{"x":{"field":"x","type":"quantitative"}}},
 {"data":{"name":"fb"},"mark":{"type":"line","color":"black","strokeWidth":1.3,"strokeDash":[6,4],"interpolate":"monotone"},"encoding":{"x":{"field":"x","type":"quantitative"},"y":{"field":"y","type":"quantitative"}}},
 {"data":{"name":"sb"},"mark":{"type":"errorbar","ticks":{"color":"#f01e1e","size":6,"thickness":1.2},"rule":{"color":"#f01e1e","strokeWidth":1.2}},"encoding":{"x":{"field":"x","type":"quantitative","title":"Contact depth (nm)"},"y":{"field":"y","type":"quantitative","title":"Shear offset (nm)"},"yError":{"field":"e"}}},
 {"data":{"name":"sb"},"mark":{"type":"point","shape":"circle","filled":true,"fill":"white","stroke":"#f01e1e","strokeWidth":1.2,"size":30,"opacity":1},
  "encoding":{"x":{"field":"x","type":"quantitative","scale":{"domain":[0,190],"nice":false,"zero":false},"title":"Contact depth (nm)","axis":{"values":[0,30,60,90,120,150,180],"labelExpr":"datum.value%60===0?datum.label:''"}},
   "y":{"field":"y","type":"quantitative","scale":{"domain":[2,9],"nice":false,"zero":false},"title":"Shear offset (nm)","axis":{"values":[2,3,4,5,6,7,8],"labelExpr":"datum.value%2===0?datum.label:''"}}}},
 {"data":{"values":[{"x":0,"x2":23.5,"y":4.85}]},"mark":{"type":"rule","color":"black","strokeWidth":1.3},"encoding":{"x":{"field":"x","type":"quantitative"},"x2":{"field":"x2"},"y":{"field":"y","type":"quantitative"}}},
 {"data":{"values":[{"x":0,"y":4.85,"d":"L"},{"x":23.5,"y":4.85,"d":"R"}]},"mark":{"type":"point","filled":false,"color":"black","strokeWidth":1.3,"size":70,"opacity":1},"encoding":{"x":{"field":"x","type":"quantitative"},"y":{"field":"y","type":"quantitative"},"shape":{"field":"d","type":"nominal","scale":{"domain":["L","R"],"range":["M1,-0.8L0,0L1,0.8","M-1,-0.8L0,0L-1,0.8"]},"legend":null}}},
 {"data":{"values":[{"x":11.5,"y":5.3,"t":"23nm"}]},"mark":{"type":"text","fontSize":15},"encoding":{"x":{"field":"x","type":"quantitative"},"y":{"field":"y","type":"quantitative"},"text":{"field":"t"}}},
 {"data":{"values":[{"x":12,"y":8.25,"t":"I"},{"x":55,"y":8.25,"t":"II"}]},"mark":{"type":"text","font":"Liberation Serif","fontSize":17},"encoding":{"x":{"field":"x","type":"quantitative"},"y":{"field":"y","type":"quantitative"},"text":{"field":"t"}}},
 {"data":{"values":[{"x":146,"y":3.25,"v":"= 0.41"}]},"mark":{"type":"text","text":"T/T","fontStyle":"italic","align":"right","dx":-9,"fontSize":15},"encoding":{"x":{"field":"x","type":"quantitative"},"y":{"field":"y","type":"quantitative"}}},
 {"data":{"values":[{"x":146,"y":3.25,"v":"= 0.41"}]},"mark":{"type":"text","text":"g","fontStyle":"italic","align":"left","dx":-9,"dy":5,"fontSize":12},"encoding":{"x":{"field":"x","type":"quantitative"},"y":{"field":"y","type":"quantitative"}}},
 {"data":{"values":[{"x":146,"y":3.25,"v":"= 0.41"}]},"mark":{"type":"text","align":"left","dx":1,"fontSize":15},"encoding":{"x":{"field":"x","type":"quantitative"},"y":{"field":"y","type":"quantitative"},"text":{"field":"v"}}}
]}
],"spacing":60,"bounds":"flush"},
{"hconcat":[
{"title":{"text":"(c)","frame":"group","offset":-0.5},"width":280,"height":198,"layer":[
 {"data":{"name":"cc"},"transform":[{"filter":"datum.s==2||datum.s==8"}],"mark":{"type":"line","clip":true,"interpolate":"monotone","color":"#1c1cc8","strokeWidth":2.2},
  "encoding":{"x":{"field":"x","type":"quantitative","scale":{"domain":[0,200],"nice":false,"zero":false},"title":"Contact depth (nm)","axis":{"values":[0,25,50,75,100,125,150,175,200],"labelExpr":"datum.value%50===0?datum.label:''"}},
   "y":{"field":"y","type":"quantitative","scale":{"domain":[5.7,8.0],"nice":false,"zero":false},"title":"Hardness (GPa)","axis":{"values":[6.0,6.5,7.0,7.5,8.0],"format":".1f"}},
   "detail":{"field":"s","type":"nominal"}}},
 {"data":{"name":"cc"},"transform":[{"filter":"datum.s!=2&&datum.s!=8"}],"mark":{"type":"line","clip":true,"interpolate":"monotone","color":"#4a4ae0","strokeWidth":0.9},
  "encoding":{"x":{"field":"x","type":"quantitative"},"y":{"field":"y","type":"quantitative"},"detail":{"field":"s","type":"nominal"}}},
 {"data":{"name":"hc"},"mark":{"type":"point","shape":"circle","filled":false,"color":"#f01e1e","size":60,"strokeWidth":1.3,"opacity":1,"clip":true},
  "encoding":{"x":{"field":"x","type":"quantitative"},"y":{"field":"y","type":"quantitative"}}},
 {"data":{"values":[{"x":62.8,"y":7.72,"t":"s=8nm"}]},"mark":{"type":"text","angle":60},"encoding":{"x":{"field":"x","type":"quantitative"},"y":{"field":"y","type":"quantitative"},"text":{"field":"t"}}},
 {"data":{"values":[{"x":45.5,"y":7.68,"t":"s=7"},{"x":40.7,"y":7.51,"t":"s=6"},{"x":34.7,"y":7.33,"t":"s=5"}]},"mark":{"type":"text","angle":66},"encoding":{"x":{"field":"x","type":"quantitative"},"y":{"field":"y","type":"quantitative"},"text":{"field":"t"}}},
 {"data":{"values":[{"x":61,"y":6.44,"t":"s=4"}]},"mark":{"type":"text","angle":35},"encoding":{"x":{"field":"x","type":"quantitative"},"y":{"field":"y","type":"quantitative"},"text":{"field":"t"}}},
 {"data":{"values":[{"x":85,"y":6.08,"t":"s=3"}]},"mark":{"type":"text","angle":10},"encoding":{"x":{"field":"x","type":"quantitative"},"y":{"field":"y","type":"quantitative"},"text":{"field":"t"}}},
 {"data":{"values":[{"x":112.6,"y":5.79,"t":"s=2"}]},"mark":{"type":"text"},"encoding":{"x":{"field":"x","type":"quantitative"},"y":{"field":"y","type":"quantitative"},"text":{"field":"t"}}},
 {"data":{"values":[{"x":196.4,"y":7.82,"t":"Pd₄₀Cu₃₀Ni₁₀P₂₀"}]},"mark":{"type":"text","align":"right","fontSize":15},"encoding":{"x":{"field":"x","type":"quantitative"},"y":{"field":"y","type":"quantitative"},"text":{"field":"t"}}}
]},
{"title":{"text":"(d)","frame":"group"},"width":280,"height":198,"layer":[
 {"data":{"values":[{"x":0,"x2":32}]},"mark":{"type":"rect","color":"#ffff88"},"encoding":{"x":{"field":"x","type":"quantitative","scale":{"domain":[0,200],"nice":false,"zero":false}},"x2":{"field":"x2"},"y":{"datum":9,"type":"quantitative","scale":{"domain":[2,9],"nice":false,"zero":false}},"y2":{"datum":2}}},
 {"data":{"values":[{"x":32}]},"mark":{"type":"rule","color":"#1a9a8a","strokeWidth":2,"strokeDash":[4,3]},"encoding":{"x":{"field":"x","type":"quantitative"}}},
 {"data":{"name":"fd"},"mark":{"type":"line","color":"black","strokeWidth":1.3,"strokeDash":[6,4],"interpolate":"monotone"},"encoding":{"x":{"field":"x","type":"quantitative"},"y":{"field":"y","type":"quantitative"}}},
 {"data":{"name":"sd"},"mark":{"type":"errorbar","ticks":{"color":"#f01e1e","size":6,"thickness":1.2},"rule":{"color":"#f01e1e","strokeWidth":1.2}},"encoding":{"x":{"field":"x","type":"quantitative","title":"Contact depth (nm)"},"y":{"field":"y","type":"quantitative","title":"Shear offset (nm)"},"yError":{"field":"e"}}},
 {"data":{"name":"sd"},"mark":{"type":"point","shape":"circle","filled":true,"fill":"white","stroke":"#f01e1e","strokeWidth":1.2,"size":30,"opacity":1},
  "encoding":{"x":{"field":"x","type":"quantitative","scale":{"domain":[0,200],"nice":false,"zero":false},"title":"Contact depth (nm)","axis":{"values":[0,25,50,75,100,125,150,175,200],"labelExpr":"datum.value%50===0?datum.label:''"}},
   "y":{"field":"y","type":"quantitative","scale":{"domain":[2,9],"nice":false,"zero":false},"title":"Shear offset (nm)","axis":{"values":[2,3,4,5,6,7,8],"labelExpr":"datum.value%2===0?datum.label:''"}}}},
 {"data":{"values":[{"x":0,"x2":32,"y":5.32}]},"mark":{"type":"rule","color":"black","strokeWidth":1.3},"encoding":{"x":{"field":"x","type":"quantitative"},"x2":{"field":"x2"},"y":{"field":"y","type":"quantitative"}}},
 {"data":{"values":[{"x":0,"y":5.32,"d":"L"},{"x":32,"y":5.32,"d":"R"}]},"mark":{"type":"point","filled":false,"color":"black","strokeWidth":1.3,"size":70,"opacity":1},"encoding":{"x":{"field":"x","type":"quantitative"},"y":{"field":"y","type":"quantitative"},"shape":{"field":"d","type":"nominal","scale":{"domain":["L","R"],"range":["M1,-0.8L0,0L1,0.8","M-1,-0.8L0,0L-1,0.8"]},"legend":null}}},
 {"data":{"values":[{"x":16.5,"y":5.95,"t":"32nm"}]},"mark":{"type":"text","fontSize":15},"encoding":{"x":{"field":"x","type":"quantitative"},"y":{"field":"y","type":"quantitative"},"text":{"field":"t"}}},
 {"data":{"values":[{"x":17.9,"y":8.14,"t":"I"},{"x":113.8,"y":8.14,"t":"II"}]},"mark":{"type":"text","font":"Liberation Serif","fontSize":17},"encoding":{"x":{"field":"x","type":"quantitative"},"y":{"field":"y","type":"quantitative"},"text":{"field":"t"}}},
 {"data":{"values":[{"x":149,"y":3.26,"v":"= 0.52"}]},"mark":{"type":"text","text":"T/T","fontStyle":"italic","align":"right","dx":-9,"fontSize":15},"encoding":{"x":{"field":"x","type":"quantitative"},"y":{"field":"y","type":"quantitative"}}},
 {"data":{"values":[{"x":149,"y":3.26,"v":"= 0.52"}]},"mark":{"type":"text","text":"g","fontStyle":"italic","align":"left","dx":-9,"dy":5,"fontSize":12},"encoding":{"x":{"field":"x","type":"quantitative"},"y":{"field":"y","type":"quantitative"}}},
 {"data":{"values":[{"x":149,"y":3.26,"v":"= 0.52"}]},"mark":{"type":"text","align":"left","dx":1,"fontSize":15},"encoding":{"x":{"field":"x","type":"quantitative"},"y":{"field":"y","type":"quantitative"},"text":{"field":"v"}}}
]}
],"spacing":60,"bounds":"flush"},
{"hconcat":[
{"title":{"text":"(e)","frame":"group"},"width":280,"height":198,"layer":[
 {"data":{"name":"ce"},"transform":[{"filter":"datum.s==2||datum.s==6"}],"mark":{"type":"line","clip":true,"interpolate":"monotone","color":"#1c1cc8","strokeWidth":2.2},
  "encoding":{"x":{"field":"x","type":"quantitative","scale":{"domain":[0,270],"nice":false,"zero":false},"title":"Contact depth (nm)","axis":{"values":[0,45,90,135,180,225,270],"labelExpr":"datum.value%90===0?datum.label:''"}},
   "y":{"field":"y","type":"quantitative","scale":{"domain":[3.2,4.6],"nice":false,"zero":false},"title":"Hardness (GPa)","axis":{"values":[3.2,3.4,3.6,3.8,4.0,4.2,4.4],"labelExpr":"datum.value==3.2||datum.value==3.6||datum.value==4||datum.value==4.4?format(datum.value,'.1f'):''"}},
   "detail":{"field":"s","type":"nominal"}}},
 {"data":{"name":"ce"},"transform":[{"filter":"datum.s!=2&&datum.s!=6"}],"mark":{"type":"line","clip":true,"interpolate":"monotone","color":"#4a4ae0","strokeWidth":0.9},
  "encoding":{"x":{"field":"x","type":"quantitative"},"y":{"field":"y","type":"quantitative"},"detail":{"field":"s","type":"nominal"}}},
 {"data":{"name":"he"},"mark":{"type":"point","shape":"circle","filled":false,"color":"#f01e1e","size":60,"strokeWidth":1.3,"opacity":1,"clip":true},
  "encoding":{"x":{"field":"x","type":"quantitative"},"y":{"field":"y","type":"quantitative"}}},
 {"data":{"values":[{"x":43.4,"y":4.34,"t":"s=4"}]},"mark":{"type":"text","angle":70},"encoding":{"x":{"field":"x","type":"quantitative"},"y":{"field":"y","type":"quantitative"},"text":{"field":"t"}}},
 {"data":{"values":[{"x":66.5,"y":4.21,"t":"s=5"}]},"mark":{"type":"text","angle":65},"encoding":{"x":{"field":"x","type":"quantitative"},"y":{"field":"y","type":"quantitative"},"text":{"field":"t"}}},
 {"data":{"values":[{"x":107.7,"y":4.08,"t":"s=6nm"}]},"mark":{"type":"text","angle":50},"encoding":{"x":{"field":"x","type":"quantitative"},"y":{"field":"y","type":"quantitative"},"text":{"field":"t"}}},
 {"data":{"values":[{"x":109.3,"y":3.486,"t":"s=3"}]},"mark":{"type":"text","angle":10},"encoding":{"x":{"field":"x","type":"quantitative"},"y":{"field":"y","type":"quantitative"},"text":{"field":"t"}}},
 {"data":{"values":[{"x":147.9,"y":3.276,"t":"s=2"}]},"mark":{"type":"text"},"encoding":{"x":{"field":"x","type":"quantitative"},"y":{"field":"y","type":"quantitative"},"text":{"field":"t"}}},
 {"data":{"values":[{"x":265,"y":4.44,"t":"Mg₆₅Cu₂₅Gd₁₀"}]},"mark":{"type":"text","align":"right","fontSize":15},"encoding":{"x":{"field":"x","type":"quantitative"},"y":{"field":"y","type":"quantitative"},"text":{"field":"t"}}}
]},
{"title":{"text":"(f)","frame":"group"},"width":280,"height":198,"layer":[
 {"data":{"values":[{"x":0,"x2":44.5}]},"mark":{"type":"rect","color":"#ffff88"},"encoding":{"x":{"field":"x","type":"quantitative","scale":{"domain":[0,270],"nice":false,"zero":false}},"x2":{"field":"x2"},"y":{"datum":6.5,"type":"quantitative","scale":{"domain":[2,6.5],"nice":false,"zero":false}},"y2":{"datum":2}}},
 {"data":{"values":[{"x":44.5}]},"mark":{"type":"rule","color":"#1a9a8a","strokeWidth":2,"strokeDash":[4,3]},"encoding":{"x":{"field":"x","type":"quantitative"}}},
 {"data":{"name":"ff"},"mark":{"type":"line","color":"black","strokeWidth":1.3,"strokeDash":[6,4],"interpolate":"monotone"},"encoding":{"x":{"field":"x","type":"quantitative"},"y":{"field":"y","type":"quantitative"}}},
 {"data":{"name":"sf"},"mark":{"type":"errorbar","ticks":{"color":"#f01e1e","size":6,"thickness":1.2},"rule":{"color":"#f01e1e","strokeWidth":1.2}},"encoding":{"x":{"field":"x","type":"quantitative","title":"Contact depth (nm)"},"y":{"field":"y","type":"quantitative","title":"Shear offset (nm)"},"yError":{"field":"e"}}},
 {"data":{"name":"sf"},"mark":{"type":"point","shape":"circle","filled":true,"fill":"white","stroke":"#f01e1e","strokeWidth":1.2,"size":30,"opacity":1},
  "encoding":{"x":{"field":"x","type":"quantitative","scale":{"domain":[0,270],"nice":false,"zero":false},"title":"Contact depth (nm)","axis":{"values":[0,45,90,135,180,225,270],"labelExpr":"datum.value%90===0?datum.label:''"}},
   "y":{"field":"y","type":"quantitative","scale":{"domain":[2,6.5],"nice":false,"zero":false},"title":"Shear offset (nm)","axis":{"values":[2,2.5,3,3.5,4,4.5,5,5.5,6],"labelExpr":"datum.value==2||datum.value==3||datum.value==4||datum.value==5||datum.value==6?datum.label:''"}}}},
 {"data":{"values":[{"x":0,"x2":44.5,"y":4.48}]},"mark":{"type":"rule","color":"black","strokeWidth":1.3},"encoding":{"x":{"field":"x","type":"quantitative"},"x2":{"field":"x2"},"y":{"field":"y","type":"quantitative"}}},
 {"data":{"values":[{"x":0,"y":4.48,"d":"L"},{"x":44.5,"y":4.48,"d":"R"}]},"mark":{"type":"point","filled":false,"color":"black","strokeWidth":1.3,"size":70,"opacity":1},"encoding":{"x":{"field":"x","type":"quantitative"},"y":{"field":"y","type":"quantitative"},"shape":{"field":"d","type":"nominal","scale":{"domain":["L","R"],"range":["M1,-0.8L0,0L1,0.8","M-1,-0.8L0,0L-1,0.8"]},"legend":null}}},
 {"data":{"values":[{"x":22,"y":4.82,"t":"44nm"}]},"mark":{"type":"text","fontSize":15},"encoding":{"x":{"field":"x","type":"quantitative"},"y":{"field":"y","type":"quantitative"},"text":{"field":"t"}}},
 {"data":{"values":[{"x":23.5,"y":6.03,"t":"I"},{"x":158.8,"y":6.03,"t":"II"}]},"mark":{"type":"text","font":"Liberation Serif","fontSize":17},"encoding":{"x":{"field":"x","type":"quantitative"},"y":{"field":"y","type":"quantitative"},"text":{"field":"t"}}},
 {"data":{"values":[{"x":206,"y":2.76,"v":"= 0.71"}]},"mark":{"type":"text","text":"T/T","fontStyle":"italic","align":"right","dx":-9,"fontSize":15},"encoding":{"x":{"field":"x","type":"quantitative"},"y":{"field":"y","type":"quantitative"}}},
 {"data":{"values":[{"x":206,"y":2.76,"v":"= 0.71"}]},"mark":{"type":"text","text":"g","fontStyle":"italic","align":"left","dx":-9,"dy":5,"fontSize":12},"encoding":{"x":{"field":"x","type":"quantitative"},"y":{"field":"y","type":"quantitative"}}},
 {"data":{"values":[{"x":206,"y":2.76,"v":"= 0.71"}]},"mark":{"type":"text","align":"left","dx":1,"fontSize":15},"encoding":{"x":{"field":"x","type":"quantitative"},"y":{"field":"y","type":"quantitative"},"text":{"field":"v"}}}
]}
],"spacing":60,"bounds":"flush"},
{"hconcat":[
{"title":{"text":"(g)","frame":"group"},"width":280,"height":198,"layer":[
 {"data":{"name":"cg"},"transform":[{"filter":"datum.s==1||datum.s==5"}],"mark":{"type":"line","clip":true,"interpolate":"monotone","color":"#1c1cc8","strokeWidth":2.2},
  "encoding":{"x":{"field":"x","type":"quantitative","scale":{"domain":[0,310],"nice":false,"zero":false},"title":"Contact depth (nm)","axis":{"values":[0,35,70,105,140,175,210,245,280],"labelExpr":"datum.value%70===0?datum.label:''"}},
   "y":{"field":"y","type":"quantitative","scale":{"domain":[2.4,3.1],"nice":false,"zero":false},"title":"Hardness (GPa)","axis":{"values":[2.4,2.5,2.6,2.7,2.8,2.9,3.0],"labelExpr":"datum.value==2.4||datum.value==2.6||datum.value==2.8||datum.value==3?format(datum.value,'.1f'):''"}},
   "detail":{"field":"s","type":"nominal"}}},
 {"data":{"name":"cg"},"transform":[{"filter":"datum.s!=1&&datum.s!=5"}],"mark":{"type":"line","clip":true,"interpolate":"monotone","color":"#4a4ae0","strokeWidth":0.9},
  "encoding":{"x":{"field":"x","type":"quantitative"},"y":{"field":"y","type":"quantitative"},"detail":{"field":"s","type":"nominal"}}},
 {"data":{"name":"hg"},"mark":{"type":"point","shape":"circle","filled":false,"color":"#f01e1e","size":60,"strokeWidth":1.3,"opacity":1,"clip":true},
  "encoding":{"x":{"field":"x","type":"quantitative"},"y":{"field":"y","type":"quantitative"}}},
 {"data":{"values":[{"x":177.6,"y":2.908,"t":"s=5nm"}]},"mark":{"type":"text","angle":50},"encoding":{"x":{"field":"x","type":"quantitative"},"y":{"field":"y","type":"quantitative"},"text":{"field":"t"}}},
 {"data":{"values":[{"x":123.4,"y":2.939,"t":"s=4"}]},"mark":{"type":"text","angle":65},"encoding":{"x":{"field":"x","type":"quantitative"},"y":{"field":"y","type":"quantitative"},"text":{"field":"t"}}},
 {"data":{"values":[{"x":84.7,"y":2.937,"t":"s=3"}]},"mark":{"type":"text","angle":70},"encoding":{"x":{"field":"x","type":"quantitative"},"y":{"field":"y","type":"quantitative"},"text":{"field":"t"}}},
 {"data":{"values":[{"x":140,"y":2.579,"t":"s=2"},{"x":182.4,"y":2.446,"t":"s=1"}]},"mark":{"type":"text"},"encoding":{"x":{"field":"x","type":"quantitative"},"y":{"field":"y","type":"quantitative"},"text":{"field":"t"}}},
 {"data":{"values":[{"x":305.8,"y":3.035,"t":"Ce₆₀Al₂₀Ni₁₀Cu₁₀"}]},"mark":{"type":"text","align":"right","fontSize":15},"encoding":{"x":{"field":"x","type":"quantitative"},"y":{"field":"y","type":"quantitative"},"text":{"field":"t"}}}
]},
{"title":{"text":"(h)","frame":"group","offset":-0.5},"width":280,"height":198,"layer":[
 {"data":{"values":[{"x":0,"x2":54.5}]},"mark":{"type":"rect","color":"#ffff88"},"encoding":{"x":{"field":"x","type":"quantitative","scale":{"domain":[0,310],"nice":false,"zero":false}},"x2":{"field":"x2"},"y":{"datum":6,"type":"quantitative","scale":{"domain":[0,6],"nice":false,"zero":false}},"y2":{"datum":0}}},
 {"data":{"values":[{"x":54.5}]},"mark":{"type":"rule","color":"#1a9a8a","strokeWidth":2,"strokeDash":[4,3]},"encoding":{"x":{"field":"x","type":"quantitative"}}},
 {"data":{"name":"fh"},"mark":{"type":"line","color":"black","strokeWidth":1.3,"strokeDash":[6,4],"interpolate":"monotone"},"encoding":{"x":{"field":"x","type":"quantitative"},"y":{"field":"y","type":"quantitative"}}},
 {"data":{"name":"sh"},"mark":{"type":"errorbar","ticks":{"color":"#f01e1e","size":6,"thickness":1.2},"rule":{"color":"#f01e1e","strokeWidth":1.2}},"encoding":{"x":{"field":"x","type":"quantitative","title":"Contact depth (nm)"},"y":{"field":"y","type":"quantitative","title":"Shear offset (nm)"},"yError":{"field":"e"}}},
 {"data":{"name":"sh"},"mark":{"type":"point","shape":"circle","filled":true,"fill":"white","stroke":"#f01e1e","strokeWidth":1.2,"size":30,"opacity":1},
  "encoding":{"x":{"field":"x","type":"quantitative","scale":{"domain":[0,310],"nice":false,"zero":false},"title":"Contact depth (nm)","axis":{"values":[0,35,70,105,140,175,210,245,280],"labelExpr":"datum.value%70===0?datum.label:''"}},
   "y":{"field":"y","type":"quantitative","scale":{"domain":[0,6],"nice":false,"zero":false},"title":"Shear offset (nm)","axis":{"values":[0,1,2,3,4,5,6],"labelExpr":"datum.value%2===0?datum.label:''"}}}},
 {"data":{"values":[{"x":0,"x2":54.5,"y":3.49}]},"mark":{"type":"rule","color":"black","strokeWidth":1.3},"encoding":{"x":{"field":"x","type":"quantitative"},"x2":{"field":"x2"},"y":{"field":"y","type":"quantitative"}}},
 {"data":{"values":[{"x":0,"y":3.49,"d":"L"},{"x":54.5,"y":3.49,"d":"R"}]},"mark":{"type":"point","filled":false,"color":"black","strokeWidth":1.3,"size":70,"opacity":1},"encoding":{"x":{"field":"x","type":"quantitative"},"y":{"field":"y","type":"quantitative"},"shape":{"field":"d","type":"nominal","scale":{"domain":["L","R"],"range":["M1,-0.8L0,0L1,0.8","M-1,-0.8L0,0L-1,0.8"]},"legend":null}}},
 {"data":{"values":[{"x":27,"y":3.93,"t":"54nm"}]},"mark":{"type":"text","fontSize":15},"encoding":{"x":{"field":"x","type":"quantitative"},"y":{"field":"y","type":"quantitative"},"text":{"field":"t"}}},
 {"data":{"values":[{"x":24.3,"y":5.41,"t":"I"},{"x":172.4,"y":5.41,"t":"II"}]},"mark":{"type":"text","font":"Liberation Serif","fontSize":17,"fontWeight":"bold"},"encoding":{"x":{"field":"x","type":"quantitative"},"y":{"field":"y","type":"quantitative"},"text":{"field":"t"}}},
 {"data":{"values":[{"x":230,"y":1.08,"v":"= 0.83"}]},"mark":{"type":"text","text":"T/T","fontStyle":"italic","align":"right","dx":-9,"fontSize":15},"encoding":{"x":{"field":"x","type":"quantitative"},"y":{"field":"y","type":"quantitative"}}},
 {"data":{"values":[{"x":230,"y":1.08,"v":"= 0.83"}]},"mark":{"type":"text","text":"g","fontStyle":"italic","align":"left","dx":-9,"dy":5,"fontSize":12},"encoding":{"x":{"field":"x","type":"quantitative"},"y":{"field":"y","type":"quantitative"}}},
 {"data":{"values":[{"x":230,"y":1.08,"v":"= 0.83"}]},"mark":{"type":"text","align":"left","dx":1,"fontSize":15},"encoding":{"x":{"field":"x","type":"quantitative"},"y":{"field":"y","type":"quantitative"},"text":{"field":"v"}}}
]}
],"spacing":60,"bounds":"flush"}
]
}
